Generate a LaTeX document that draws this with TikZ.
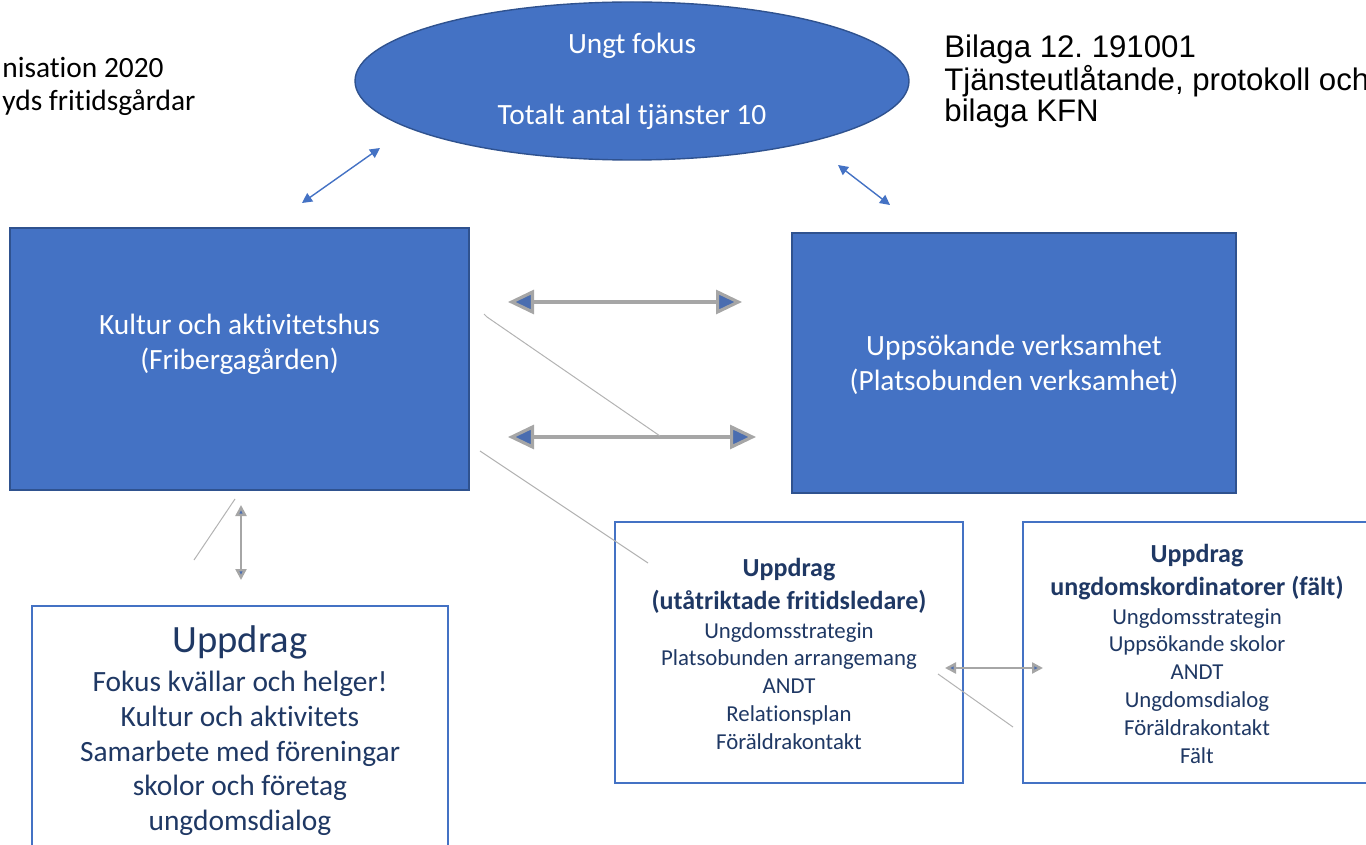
\documentclass[tikz,border=0pt]{standalone}
\usepackage{fontspec}
\setmainfont{Carlito}[Ligatures=NoCommon]
\newfontfamily\arialfont{Liberation Sans}
\usetikzlibrary{arrows.meta,shapes.geometric,fit,calc}
\frenchspacing

\definecolor{boxblue}{HTML}{4472C4}
\definecolor{boxedge}{HTML}{2F528F}
\definecolor{navy}{HTML}{1F3864}
\definecolor{pencil}{HTML}{A6A6A6}
\definecolor{headblue}{HTML}{4A6DB0}

\newcommand{\uppbold}[1]{{\fontsize{13}{16}\selectfont\bfseries #1}}

\tikzset{
  bluebox/.style={draw=boxedge, fill=boxblue, line width=0.7pt, inner sep=0pt},
  whitebox/.style={draw=boxblue, fill=white, line width=0.75pt, inner sep=0pt},
  whitetext/.style={text=white, align=center, inner sep=0pt, font=\fontsize{14.7}{17.6}\selectfont},
  navytext/.style={text=navy, align=center, inner sep=0pt},
  linkarrow/.style={draw=boxblue, line width=0.7pt,
    {Triangle[length=5pt,width=5pt]}-{Triangle[length=5pt,width=5pt]}},
  sketcharrow/.style={draw=pencil, line width=1.6pt,
    {Triangle[length=13pt,width=12pt,color=pencil,fill=headblue]}-{Triangle[length=13pt,width=12pt,color=pencil,fill=headblue]}},
  thinsketch/.style={draw=pencil, line width=1.2pt,
    {Triangle[length=5.5pt,width=5.5pt,color=pencil,fill=headblue]}-{Triangle[length=5.5pt,width=5.5pt,color=pencil,fill=headblue]}},
  handle/.style={draw=pencil!85, line width=0.5pt}
}

\begin{document}
\begin{tikzpicture}[x=0.5pt,y=-0.5pt]
\useasboundingbox (0,0) rectangle (1366,845);
\clip (0,0) rectangle (1366,845);

% Header texts
\node[anchor=north west, align=left, inner sep=0pt, font=\fontsize{14.7}{16.5}\selectfont] (org) at (2,57)
  {nisation 2020\\yds fritidsgårdar};
\node[anchor=north west, align=left, inner sep=0pt, font=\arialfont\fontsize{15.6}{14.5}\selectfont] (bilaga) at (944,34)
  {Bilaga 12. 191001\\Tjänsteutlåtande, protokoll och\\bilaga KFN};

% Ungt fokus
\node[ellipse, draw=boxedge, fill=boxblue, line width=0.7pt, inner sep=0pt,
  minimum width=554*0.5pt, minimum height=158*0.5pt, whitetext] (fokus) at (632,81)
  {Ungt fokus\\[18pt]Totalt antal tjänster 10};

% Main boxes
\node[bluebox, fit={(10,228) (469,490)}] (kultur) {};
\node[whitetext, font=\fontsize{14.7}{17.5}\selectfont] (kulturtext) at ($(kultur.center)+(0,-15)$)
  {Kultur och aktivitetshus\\{(Fribergagården)}};
\node[bluebox, fit={(792,233) (1236,493)}] (uppsok) {};
\node[whitetext, font=\fontsize{14.7}{17.8}\selectfont] (uppsoktext) at ($(uppsok.center)+(0,2)$)
  {Uppsökande verksamhet\\{(Platsobunden verksamhet)}};

% Uppdrag boxes
\node[whitebox, fit={(32,606) (448,870)}] (hus) {};
\node[navytext, anchor=north, font=\fontsize{14.7}{17.3}\selectfont] (hustext) at (240,625)
  {{\fontsize{19.3}{22}\selectfont Uppdrag}\\[2.5pt]
   Fokus kvällar och helger!\\Kultur och aktivitets\\Samarbete med föreningar\\
   skolor och företag\\ungdomsdialog};
\node[whitebox, fit={(615,522) (963,783)}] (fritid) {};
\node[navytext, font=\fontsize{11.4}{13.9}\selectfont] (fritidtext) at (789,654)
  {\uppbold{Uppdrag}\\[2.2pt]\uppbold{(utåtriktade fritidsledare)}\\[0.6pt]
   Ungdomsstrategin\\Platsobunden arrangemang\\ANDT\\Relationsplan\\Föräldrakontakt};
\node[whitebox, fit={(1023,522) (1371,783)}] (falt) {};
\node[navytext, font=\fontsize{11.4}{13.9}\selectfont] (falttext) at (1197,654)
  {\uppbold{Uppdrag}\\[2.2pt]\uppbold{ungdomskordinatorer (fält)}\\[0.6pt]
   Ungdomsstrategin\\Uppsökande skolor\\ANDT\\Ungdomsdialog\\Föräldrakontakt\\Fält};

% Arrow ends
\coordinate (kulturA) at (302,203);
\coordinate (fokusA) at (380,148);
\coordinate (fokusB) at (838,165);
\coordinate (uppsokB) at (890,205);
\coordinate (kulturC) at (508,302);
\coordinate (uppsokC) at (742,302);
\coordinate (kulturD) at (508,437);
\coordinate (uppsokD) at (756,437);
\coordinate (kulturE) at (241,505);
\coordinate (husE) at (241,580);
\coordinate (fritidF) at (945,668);
\coordinate (faltF) at (1043,668);

% Connectors
\draw[linkarrow] (kulturA) -- (fokusA);
\draw[linkarrow] (fokusB) -- (uppsokB);
\draw[sketcharrow] (kulturC) -- (uppsokC);
\draw[sketcharrow] (kulturD) -- (uppsokD);
\draw[thinsketch] (kulturE) -- (husE);
\draw[thinsketch] (fritidF) -- (faltF);

% Stray pencil strokes
\draw[handle] (484,314) -- (487,317) -- (660,436);
\draw[handle] (480,451) -- (483,453) -- (648,563);
\draw[handle] (235,499) -- (194,560);
\draw[handle] (938,674) -- (1013,727);
\end{tikzpicture}
\end{document}
